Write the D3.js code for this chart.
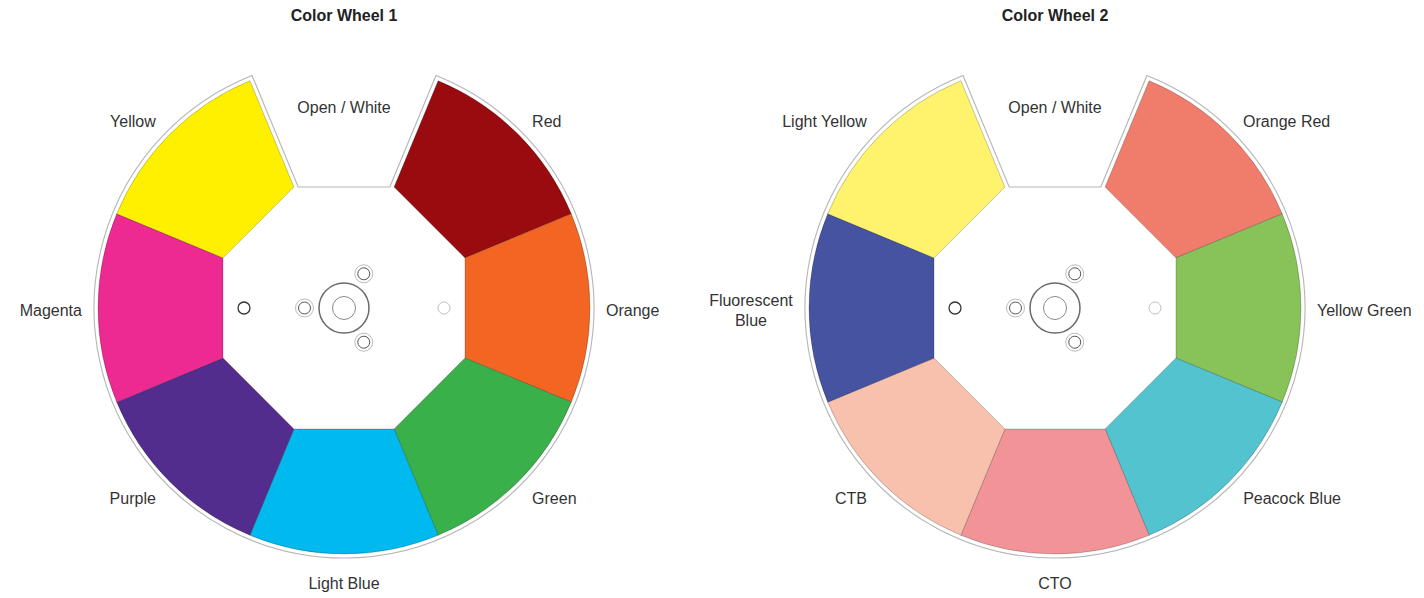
<!DOCTYPE html>
<html>
<head>
<meta charset="utf-8">
<script src="https://cdn.jsdelivr.net/npm/d3@7"></script>
<style>
  body { margin: 0; background: #fff; }
  text { font-family: "Liberation Sans", Arial, Helvetica, sans-serif; fill: #333; }
</style>
</head>
<body>
<svg width="1424" height="598"></svg>
<script>
// wheel titles
const wheelTitles = ['Color Wheel 1', 'Color Wheel 2'];

// slot names, clockwise from the top (slot 0 is the open hole)
const wheel1Labels = ['Open / White', 'Red', 'Orange', 'Green', 'Light Blue', 'Purple', 'Magenta', 'Yellow'];
const wheel1Colors = [null, '#990b0e', '#f26522', '#39b04a', '#00b9ef', '#532d8e', '#ec2a91', '#fff000'];

const wheel2Labels = ['Open / White', 'Orange Red', 'Yellow Green', 'Peacock Blue', 'CTO', 'CTB', 'Fluorescent\nBlue', 'Light Yellow'];
const wheel2Colors = [null, '#f07d6b', '#88c35a', '#53c3cf', '#f29497', '#f8c1ad', '#4653a1', '#fff36e'];

const wheels = [
  { title: wheelTitles[0], labels: wheel1Labels, colors: wheel1Colors },
  { title: wheelTitles[1], labels: wheel2Labels, colors: wheel2Colors }
];

const svg = d3.select('svg');

const cx = d3.scalePoint().domain(wheelTitles).range([344, 1055]);
const cy = 308;

const slot = d3.scaleLinear().domain([0, 8]).range([0, 2 * Math.PI]);
const half = Math.PI / 8;

const Rc = 246;      // colour filter outer radius
const apo = 121;     // inner octagon apothem
const gap = 4;       // distance of the outline from the filters
const vtx = apo / Math.cos(half);

const pt = (r, a) => [r * Math.sin(a), -r * Math.cos(a)];
const std = a => a - Math.PI / 2;

function segPath(i) {
  const a0 = slot(i) - half, a1 = slot(i) + half;
  const p = d3.path();
  const v0 = pt(vtx, a0), v1 = pt(vtx, a1), o0 = pt(Rc, a0);
  p.moveTo(v0[0], v0[1]);
  p.lineTo(o0[0], o0[1]);
  p.arc(0, 0, Rc, std(a0), std(a1));
  p.lineTo(v1[0], v1[1]);
  p.closePath();
  return p.toString();
}

function outlinePath() {
  const Ro = Rc + gap;
  const th = half;
  const c = Math.cos(th), s = Math.sin(th);
  const tTop = Math.sqrt(Ro * Ro - gap * gap);
  const tBot = (apo - gap * s) / c;
  // right edge of the notch (offset toward the notch)
  const rAt = t => [t * s - gap * c, -t * c - gap * s];
  const lAt = t => [-t * s + gap * c, -t * c - gap * s];
  const rb = rAt(tBot), rt = rAt(tTop), lt = lAt(tTop), lb = lAt(tBot);
  const p = d3.path();
  p.moveTo(rb[0], rb[1]);
  p.lineTo(rt[0], rt[1]);
  p.arc(0, 0, Ro, Math.atan2(rt[1], rt[0]), Math.atan2(lt[1], lt[0]));
  p.lineTo(lb[0], lb[1]);
  p.closePath();
  return p.toString();
}

wheels.forEach(w => {
  const g = svg.append('g').attr('transform', `translate(${cx(w.title)},${cy})`);

  svg.append('text')
    .attr('x', cx(w.title))
    .attr('y', 15)
    .attr('text-anchor', 'middle')
    .attr('dominant-baseline', 'central')
    .style('font-size', '16px')
    .style('font-weight', 'bold')
    .style('fill', '#222')
    .text(w.title);

  g.append('path')
    .attr('d', outlinePath())
    .attr('fill', 'none')
    .attr('stroke', '#b5b5b5')
    .attr('stroke-width', 1.1);

  g.selectAll('.seg')
    .data(w.colors.map((c, i) => ({ c, i })).filter(d => d.c))
    .enter().append('path')
    .attr('class', 'seg')
    .attr('d', d => segPath(d.i))
    .attr('fill', d => d.c)
    .attr('stroke', 'rgba(0,0,0,0.35)')
    .attr('stroke-width', 0.6);

  // hub
  g.append('circle').attr('r', 25).attr('fill', 'none').attr('stroke', '#6a6a6a').attr('stroke-width', 1.5);
  g.append('circle').attr('r', 11.5).attr('fill', 'none').attr('stroke', '#8a8a8a').attr('stroke-width', 1);
  [Math.PI * 1.5, Math.PI / 6, Math.PI * 5 / 6].forEach(a => {
    const p = pt(39.5, a);
    g.append('circle').attr('cx', p[0]).attr('cy', p[1]).attr('r', 9)
      .attr('fill', 'none').attr('stroke', '#a8a8a8').attr('stroke-width', 0.8);
    g.append('circle').attr('cx', p[0]).attr('cy', p[1]).attr('r', 6)
      .attr('fill', 'none').attr('stroke', '#555').attr('stroke-width', 1);
  });
  g.append('circle').attr('cx', -100).attr('r', 6).attr('fill', 'none').attr('stroke', '#333').attr('stroke-width', 1.3);
  g.append('circle').attr('cx', 100).attr('r', 6).attr('fill', 'none').attr('stroke', '#c0c0c0').attr('stroke-width', 1);

  // labels
  w.labels.forEach((lab, i) => {
    const a = slot(i);
    const lines = lab.split('\n');
    const t = g.append('text')
      .attr('text-anchor', 'middle')
      .style('font-size', '16px');
    lines.forEach((ln, k) => {
      t.append('tspan')
        .attr('x', 0)
        .attr('y', (k - (lines.length - 1) / 2) * 20)
        .attr('dominant-baseline', 'central')
        .text(ln);
    });
    const bw = t.node().getBBox().width;
    let x, y;
    if (i === 0) {
      [x, y] = pt(201, a);
    } else {
      const s = Math.sin(a), c = Math.cos(a);
      const R = 266 - 4 * Math.abs(s) * (Math.abs(c) < 0.1 ? 1 : 0);
      [x, y] = pt(R, a);
      if (s > 0.1) x += bw / 2;
      else if (s < -0.1) x -= bw / 2;
      if (c < -0.9) y += 9;
      else y += 2;
    }
    t.attr('transform', `translate(${x},${y})`);
  });
});
</script>
</body>
</html>
